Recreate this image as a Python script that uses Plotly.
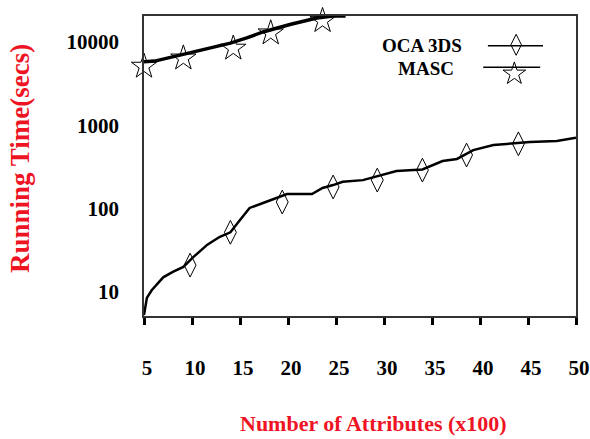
import plotly.graph_objects as go

# ---------------- data ----------------
# OCA 3DS running-time curve (x = number of attributes in hundreds, y = secs)
oca_x = [5.0, 5.1, 5.3, 5.8, 7.0, 8.0, 9.1, 10.1, 11.6, 12.9, 14.0, 15.0, 16.0, 17.4, 18.8,
         19.9, 22.5, 23.6, 24.7, 25.7, 27.8, 29.9, 31.3, 34.0, 36.1, 37.6, 39.3, 41.4,
         44.0, 45.2, 48.0, 49.7, 50.0]
oca_y = [5.3, 6.1, 8.5, 10.5, 15, 17.4, 20, 26, 37, 46, 52, 73, 102, 117, 134,
         150, 150, 177, 192, 210, 220, 254, 283, 295, 373, 395, 505, 580,
         615, 630, 650, 700, 710]
# OCA 3DS markers
oca_mx = [9.8, 14.0, 19.4, 24.7, 29.3, 34.0, 38.6, 44.0]
oca_my = [21, 52, 120, 182, 220, 290, 440, 600]

# MASC running-time curve
masc_x = [5.0, 6.1, 8.75, 11.9, 14.0, 15.7, 17.4, 20.2, 23.0, 24.7, 26.0]
masc_y = [5800, 5900, 6950, 8450, 9700, 11200, 13200, 16200, 19400, 20500, 20500]
# MASC markers
masc_mx = [5.0, 9.1, 14.3, 18.2, 23.6]
masc_my = [5100, 6400, 8400, 12800, 18000]

x_ticks = [5, 10, 15, 20, 25, 30, 35, 40, 45, 50]
y_ticks = [10, 100, 1000, 10000]
series_names = ["OCA 3DS", "MASC"]

# ---------------- styling ----------------
RED = "#ee1424"
SERIF = "Liberation Serif, Times New Roman, serif"
AX = "#333333"

fig = go.Figure()

# OCA 3DS
fig.add_trace(go.Scatter(x=oca_x, y=oca_y, mode="lines", line=dict(color="black", width=2.5),
                         showlegend=False, cliponaxis=False, hoverinfo="skip"))
fig.add_trace(go.Scatter(x=oca_mx, y=oca_my, mode="markers", name=series_names[0],
                         marker=dict(symbol="diamond-tall-open", size=17, color="black",
                                     line=dict(width=1, color="black")),
                         showlegend=False, cliponaxis=False))
# MASC
fig.add_trace(go.Scatter(x=masc_x, y=masc_y, mode="lines", line=dict(color="black", width=3.5),
                         showlegend=False, cliponaxis=True, hoverinfo="skip"))
fig.add_trace(go.Scatter(x=masc_mx, y=masc_my, mode="markers", name=series_names[1],
                         marker=dict(symbol="star-open", size=19, color="black",
                                     line=dict(width=1, color="black")),
                         showlegend=False, cliponaxis=False))

# ---- custom legend samples (symbol to the right of text), drawn on a small overlay axis ----
fig.add_trace(go.Scatter(x=[0.08, 1.0], y=[0, 0], mode="lines", line=dict(color="black", width=1.5),
                         xaxis="x2", yaxis="y2", showlegend=False, hoverinfo="skip"))
fig.add_trace(go.Scatter(x=[0.55], y=[0.05], mode="markers",
                         marker=dict(symbol="diamond-tall-open", size=15, color="black",
                                     line=dict(width=1, color="black")),
                         xaxis="x2", yaxis="y2", showlegend=False, hoverinfo="skip", cliponaxis=False))
fig.add_trace(go.Scatter(x=[0.0, 0.95], y=[-1, -1], mode="lines", line=dict(color="black", width=1.5),
                         xaxis="x2", yaxis="y2", showlegend=False, hoverinfo="skip"))
fig.add_trace(go.Scatter(x=[0.52], y=[-1.3], mode="markers",
                         marker=dict(symbol="star-open", size=17, color="black",
                                     line=dict(width=1, color="black")),
                         xaxis="x2", yaxis="y2", showlegend=False, hoverinfo="skip", cliponaxis=False))

fig.update_layout(
    width=590, height=439,
    margin=dict(l=144, r=14, t=16, b=123, autoexpand=False),
    paper_bgcolor="white", plot_bgcolor="white",
    showlegend=False,
    font=dict(family=SERIF, color="black"),
    xaxis=dict(
        range=[5, 50], tickvals=x_ticks, ticktext=[str(v) for v in x_ticks],
        showgrid=False, zeroline=False, automargin=False,
        showline=True, linecolor=AX, linewidth=1.5, mirror=True,
        ticks="outside", ticklen=7, tickwidth=3, tickcolor="black",
        ticklabelstandoff=25, ticklabelshift=3,
        tickfont=dict(family=SERIF, size=21, color="black", weight="bold"),
    ),
    yaxis=dict(
        type="log", range=[0.712, 4.312], tickvals=y_ticks,
        ticktext=[str(v) for v in y_ticks],
        showgrid=False, zeroline=False, automargin=False,
        showline=True, linecolor=AX, linewidth=1.5, mirror=True,
        ticks="", ticklabelstandoff=19,
        tickfont=dict(family=SERIF, size=21, color="black", weight="bold"),
    ),
    xaxis2=dict(domain=[0.785, 0.924], range=[0, 1], visible=False, anchor="y2",
                fixedrange=True, automargin=False),
    yaxis2=dict(domain=[0.793, 0.933], range=[-1.5, 0.4545], visible=False, anchor="x2",
                fixedrange=True, automargin=False),
    annotations=[
        dict(text="Running Time(secs)", xref="paper", yref="paper",
             x=(20 - 144) / 432, y=(316 - 159) / 300, textangle=-90, showarrow=False,
             xanchor="center", yanchor="middle",
             font=dict(family=SERIF, size=27, color=RED, weight="bold")),
        dict(text="Number of Attributes (x100)", xref="paper", yref="paper",
             x=(373 - 144) / 432, y=(316 - 424) / 300, showarrow=False,
             xanchor="center", yanchor="middle",
             font=dict(family=SERIF, size=22, color=RED, weight="bold")),
        dict(text=series_names[0], xref="paper", yref="paper",
             x=(422 - 144) / 432, y=(316 - 45) / 300, showarrow=False,
             xanchor="center", yanchor="middle",
             font=dict(family=SERIF, size=19, color="black", weight="bold")),
        dict(text=series_names[1], xref="paper", yref="paper",
             x=(426 - 144) / 432, y=(316 - 68) / 300, showarrow=False,
             xanchor="center", yanchor="middle",
             font=dict(family=SERIF, size=19, color="black", weight="bold")),
    ],
)

fig.write_html("out.html")
